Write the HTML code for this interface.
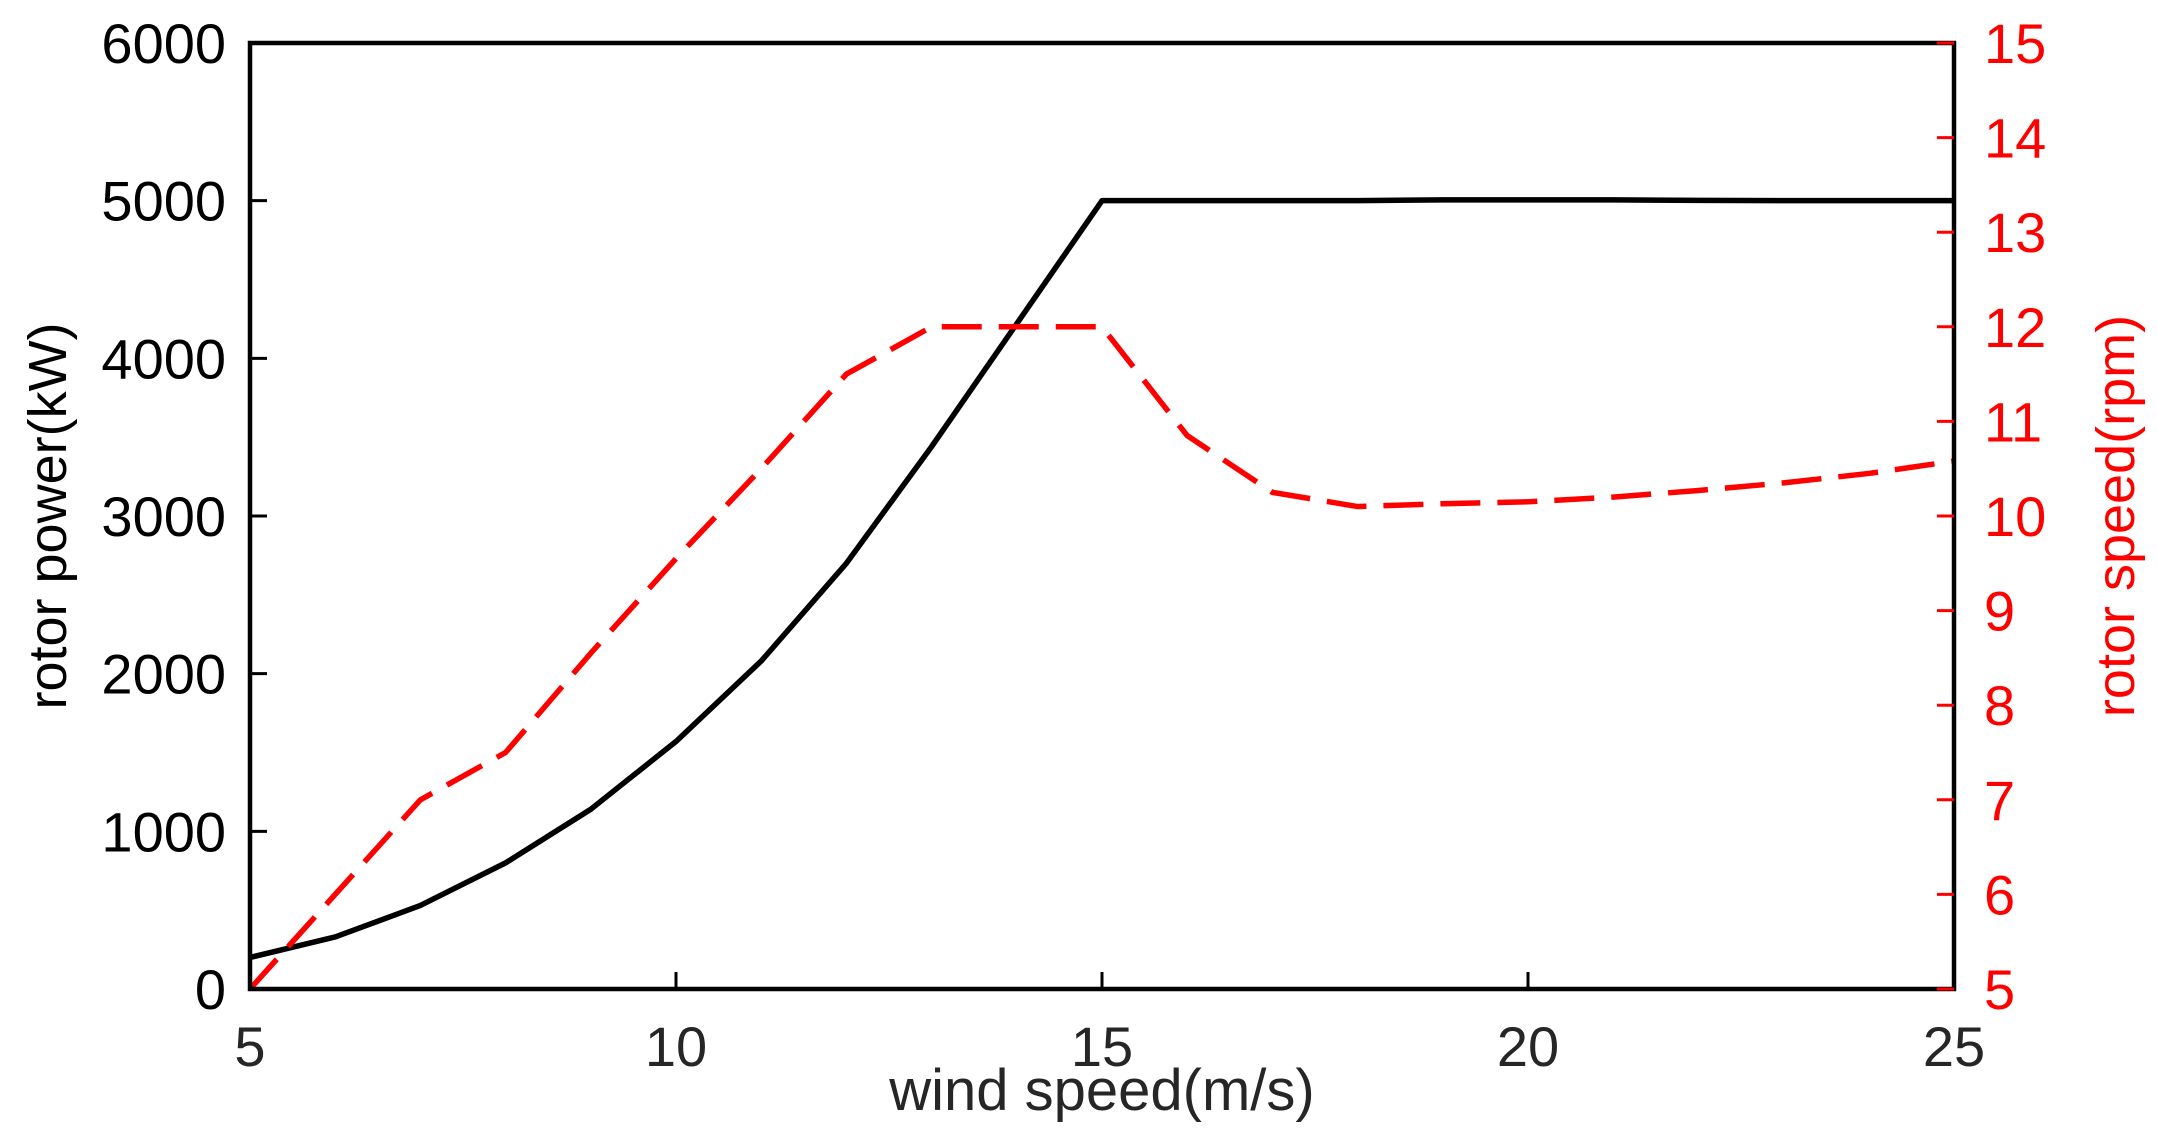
<!DOCTYPE html>
<html><head><meta charset="utf-8">
<style>
html,body{margin:0;padding:0;background:#fff;}
svg{display:block;font-family:"Liberation Sans",Arial,sans-serif;}
</style></head>
<body>
<svg id="chart" width="2157" height="1131" viewBox="0 0 2157 1131" xmlns="http://www.w3.org/2000/svg">
<g id="g"></g>
</svg>
<script>
const windSpeed=[5,6,7,8,9,10,11,12,13,14,15,16,17,18,19,20,21,22,23,24,25];
const rotorPower=[200,330,530,800,1140,1570,2080,2700,3440,4220,5000,5000,5000,5000,5005,5005,5005,5002,5000,5000,5000];
const rotorSpeed=[5,6,7,7.5,8.55,9.55,10.5,11.5,12,12,12,10.85,10.25,10.1,10.13,10.15,10.2,10.27,10.35,10.45,10.58];
const xTicks=[5,10,15,20,25];
const yLeftTicks=[0,1000,2000,3000,4000,5000,6000];
const yRightTicks=[5,6,7,8,9,10,11,12,13,14,15];

const L=250,R=1954,T=43,B=989;
const xs=v=>L+(v-5)/20*(R-L);
const yl=v=>B-v/6000*(B-T);
const yr=v=>B-(v-5)/10*(B-T);
const NS='http://www.w3.org/2000/svg';
const g=document.getElementById('g');
function mk(tag,attrs,text){const e=document.createElementNS(NS,tag);for(const k in attrs)e.setAttribute(k,attrs[k]);if(text!==undefined)e.textContent=text;g.appendChild(e);return e;}

let e=mk('polyline',{points:windSpeed.map((x,i)=>xs(x)+','+yl(rotorPower[i])).join(' '),fill:'none',stroke:'#000','stroke-width':5.5,'stroke-linejoin':'round'});


e=mk('polyline',{points:windSpeed.map((x,i)=>xs(x)+','+yr(rotorSpeed[i])).join(' '),fill:'none',stroke:'#ff0000','stroke-width':5.5,'stroke-dasharray':'40 17'});



e=mk('rect',{x:L,y:T,width:R-L,height:B-T,fill:'none',stroke:'#000','stroke-width':4.5});



xTicks.forEach(v=>{
  const x=xs(v);
  let t=mk('line',{x1:x,y1:B,x2:x,y2:B-17,stroke:'#000','stroke-width':3});
  
  
  t=mk('text',{x:x,y:1066,'font-size':56,'text-anchor':'middle',fill:'#262626'},v);
  
  
});
yLeftTicks.forEach(v=>{
  const y=yl(v);
  let t=mk('line',{x1:L,y1:y,x2:L+17,y2:y,stroke:'#000','stroke-width':3});
  
  
  t=mk('text',{x:226,y:y+20,'font-size':56,'text-anchor':'end',fill:'#000'},v);
  
  
});
yRightTicks.forEach(v=>{
  const y=yr(v);
  let t=mk('line',{x1:R,y1:y,x2:R-17,y2:y,stroke:'#ff0000','stroke-width':3});
  
  
  t=mk('text',{x:1984,y:y+20,'font-size':56,'text-anchor':'start',fill:'#ff0000'},v);
  
  
});
e=mk('text',{x:(L+R)/2,y:1110,'font-size':58,'text-anchor':'middle',fill:'#262626'},'wind speed(m/s)');


e=mk('text',{x:0,y:0,'font-size':54,'text-anchor':'middle',fill:'#000',transform:'translate(66,516) rotate(-90)'},'rotor power(kW)');


e=mk('text',{x:0,y:0,'font-size':54,'text-anchor':'middle',fill:'#ff0000',transform:'translate(2134,516) rotate(-90)'},'rotor speed(rpm)');


</script>
</body></html>
